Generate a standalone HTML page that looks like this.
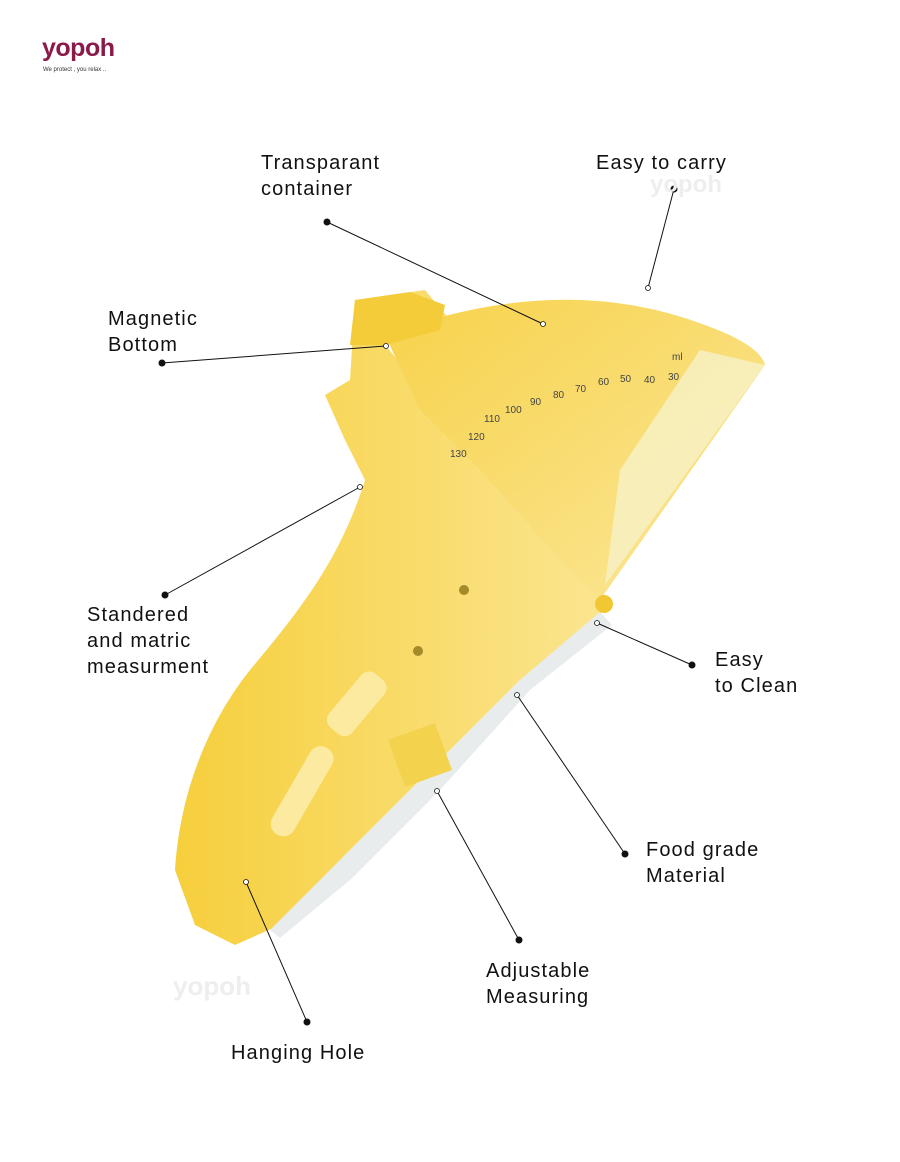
<!DOCTYPE html>
<html><head><meta charset="utf-8"><style>
html,body{margin:0;padding:0;background:#fff;}
body{width:900px;height:1162px;position:relative;overflow:hidden;font-family:"Liberation Sans",sans-serif;}
.l{position:absolute;font-size:20px;line-height:26px;color:#111;letter-spacing:1.1px}
</style></head><body>
<div style="position:absolute;left:42px;top:34px;font-size:25px;font-weight:bold;color:#8a1a4a;letter-spacing:-0.5px">yopoh</div>
<div style="position:absolute;left:43px;top:67px;font-size:6px;color:#333">We protect , you relax ..</div>
<svg width="900" height="1162" style="position:absolute;left:0;top:0">
<defs>
<linearGradient id="g1" x1="0" y1="0" x2="1" y2="1"><stop offset="0" stop-color="#f7d24a"/><stop offset="1" stop-color="#fbe79a"/></linearGradient>
<linearGradient id="g2" x1="0" y1="0" x2="1" y2="0"><stop offset="0" stop-color="#f6cf3c"/><stop offset="1" stop-color="#fbe590"/></linearGradient>
</defs>
<path d="M355 300 L425 290 L450 320 L400 330 L385 345 L600 600 L605 610 L520 680 L420 780 L340 860 L280 925 L235 945 L195 925 L175 870 C180 790 210 720 250 670 C300 610 340 560 365 480 L345 440 L325 395 L350 380 Z" fill="url(#g2)"/>
<path d="M270 930 L350 850 L430 770 L520 680 L600 612 L612 625 L530 690 L440 790 L350 880 L280 938 Z" fill="#e8ecec"/>
<path d="M385 335 Q560 270 705 325 Q760 345 765 365 L600 600 L560 560 L480 470 L420 410 Z" fill="url(#g1)"/>
<path d="M700 350 L765 365 L605 585 L620 470 Z" fill="#f6f1c8" opacity="0.8"/>
<path d="M355 300 L410 292 L445 305 L440 330 L385 345 L350 345 Z" fill="#f4cc3a"/>
<rect x="395" y="730" width="50" height="50" fill="#f3d34e" transform="rotate(-20 420 755)"/>
<rect x="290" y="740" width="25" height="100" rx="12" fill="#fbeaa0" transform="rotate(30 300 790)"/>
<rect x="345" y="670" width="30" height="70" rx="10" fill="#fbeaa0" transform="rotate(40 360 700)"/>
<circle cx="604" cy="604" r="9" fill="#f2c832"/>
<circle cx="418" cy="651" r="5" fill="#a58a2a"/><circle cx="464" cy="590" r="5" fill="#a58a2a"/>
<g font-size="10" fill="#444" font-family="Liberation Sans">
<text x="672" y="360">ml</text><text x="668" y="380">30</text><text x="644" y="383">40</text><text x="620" y="382">50</text><text x="598" y="385">60</text><text x="575" y="392">70</text><text x="553" y="398">80</text><text x="530" y="405">90</text><text x="505" y="413">100</text><text x="484" y="422">110</text><text x="468" y="440">120</text><text x="450" y="457">130</text>
</g>
<g stroke="#111" stroke-width="1" fill="none">
<line x1="327" y1="222" x2="543" y2="324"/><line x1="674" y1="189" x2="648" y2="288"/>
<line x1="162" y1="363" x2="386" y2="346"/><line x1="165" y1="595" x2="360" y2="487"/>
<line x1="692" y1="665" x2="597" y2="623"/><line x1="625" y1="854" x2="517" y2="695"/>
<line x1="519" y1="940" x2="437" y2="791"/><line x1="307" y1="1022" x2="246" y2="882"/>
</g>
<g fill="#111"><circle cx="327" cy="222" r="3.5"/><circle cx="674" cy="189" r="3.5"/><circle cx="162" cy="363" r="3.5"/><circle cx="165" cy="595" r="3.5"/><circle cx="692" cy="665" r="3.5"/><circle cx="625" cy="854" r="3.5"/><circle cx="519" cy="940" r="3.5"/><circle cx="307" cy="1022" r="3.5"/></g>
<g fill="#fff" stroke="#111" stroke-width="0.8"><circle cx="543" cy="324" r="2.5"/><circle cx="648" cy="288" r="2.5"/><circle cx="386" cy="346" r="2.5"/><circle cx="360" cy="487" r="2.5"/><circle cx="597" cy="623" r="2.5"/><circle cx="517" cy="695" r="2.5"/><circle cx="437" cy="791" r="2.5"/><circle cx="246" cy="882" r="2.5"/></g>
<text x="650" y="192" font-size="24" font-weight="bold" fill="#eee">yopoh</text>
<text x="173" y="995" font-size="26" font-weight="bold" fill="#eee">yopoh</text>
</svg>
<div class="l" style="left:261px;top:150px">Transparant<br>container</div>
<div class="l" style="left:596px;top:150px">Easy to carry</div>
<div class="l" style="left:108px;top:306px">Magnetic<br>Bottom</div>
<div class="l" style="left:87px;top:602px">Standered<br>and matric<br>measurment</div>
<div class="l" style="left:715px;top:647px">Easy<br>to Clean</div>
<div class="l" style="left:646px;top:837px">Food grade<br>Material</div>
<div class="l" style="left:486px;top:958px">Adjustable<br>Measuring</div>
<div class="l" style="left:231px;top:1040px">Hanging Hole</div>
</body></html>
